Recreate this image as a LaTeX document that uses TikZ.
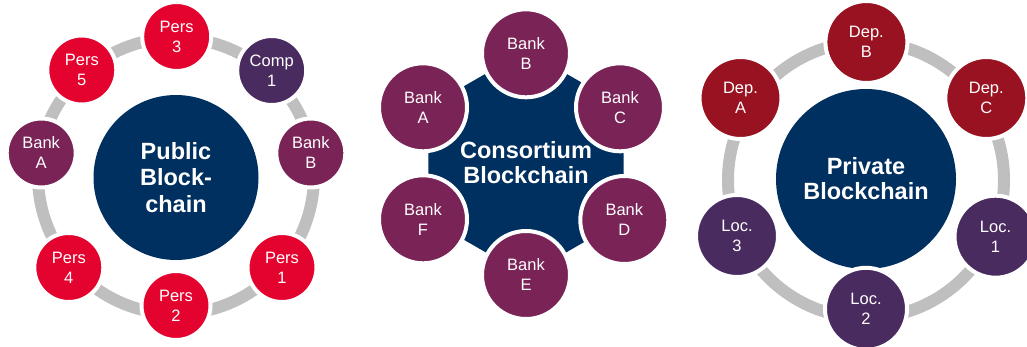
\documentclass[tikz,border=0pt]{standalone}
\usepackage{fontspec}
\setmainfont{Liberation Sans}
\definecolor{pubred}{HTML}{E4032E}
\definecolor{bankpur}{HTML}{7A2357}
\definecolor{darkpur}{HTML}{4A2B5F}
\definecolor{navy}{HTML}{00305F}
\definecolor{depred}{HTML}{981221}
\definecolor{ringgray}{HTML}{BFBFBF}
\tikzset{
  ringline/.style={draw=ringgray, line width=12pt},
  hub/.style={circle, fill=navy, inner sep=0pt, text=white, align=center,
    font=\fontsize{23.5}{26.5}\selectfont\bfseries},
  hubtext/.style={inner sep=0pt, text=white, align=center,
    font=\fontsize{23.5}{25}\selectfont\bfseries},
  member/.style={circle, draw=white, line width=4pt, inner sep=0pt, text=white,
    align=center, font=\fontsize{16.5}{20}\selectfont},
  pubm/.style={member, minimum size=69pt},
  conm/.style={member, minimum size=88pt, fill=bankpur},
  privm/.style={member, minimum size=82pt},
}
\begin{document}
\begin{tikzpicture}[x=1pt, y=-1pt]
\useasboundingbox (0,0) rectangle (1027,346);
% ---------- Public blockchain ----------
\coordinate (pubc) at (176,176);
\draw[ringline] (pubc) circle[radius=138];
\node[hub, minimum size=165pt] (pubhub) at (176,177.5) {Public\\Block-\\chain};
\node[pubm, fill=pubred]  (pp3) at (176.7,36.5) {Pers\\3};
\node[pubm, fill=darkpur] (pc1) at (271.7,70.5) {Comp\\1};
\node[pubm, fill=bankpur] (pbB) at (310.8,153) {Bank\\B};
\node[pubm, fill=pubred]  (pp1) at (282,267.5) {Pers\\1};
\node[pubm, fill=pubred]  (pp2) at (176,305.5) {Pers\\2};
\node[pubm, fill=pubred]  (pp4) at (68.8,267.5) {Pers\\4};
\node[pubm, fill=bankpur] (pbA) at (41.2,153) {Bank\\A};
\node[pubm, fill=pubred]  (pp5) at (81.8,70) {Pers\\5};
% ---------- Consortium blockchain ----------
\begin{scope}[shift={(526,163)}]
  \fill[navy] (90:112.6) -- (30:112.6) -- (-30:112.6) -- (-90:112.6)
    -- (-150:112.6) -- (150:112.6) -- cycle;
\end{scope}
\node[hubtext] (contitle) at (526,163) {Consortium\\Blockchain};
\node[conm] (cbA) at (423,107.3) {Bank\\A};
\node[conm] (cbB) at (526,53.3) {Bank\\B};
\node[conm] (cbC) at (620,107.3) {Bank\\C};
\node[conm] (cbD) at (624.3,220) {Bank\\D};
\node[conm] (cbE) at (526,275) {Bank\\E};
\node[conm] (cbF) at (423,219.3) {Bank\\F};
% ---------- Private blockchain ----------
\coordinate (privc) at (866,180);
\draw[ringline] (privc) circle[radius=138];
\node[hub, minimum size=180pt, font=\fontsize{23.5}{25}\selectfont\bfseries] (privhub) at (866,179) {Private\\Blockchain};
\node[privm, fill=depred]  (dA) at (740.5,98) {Dep.\\A};
\node[privm, fill=depred]  (dB) at (866.4,42) {Dep.\\B};
\node[privm, fill=depred]  (dC) at (986.3,98) {Dep.\\C};
\node[privm, fill=darkpur] (l1) at (995.5,236.7) {Loc.\\1};
\node[privm, fill=darkpur] (l2) at (866,308.8) {Loc.\\2};
\node[privm, fill=darkpur] (l3) at (737,236) {Loc.\\3};
\end{tikzpicture}
\end{document}
